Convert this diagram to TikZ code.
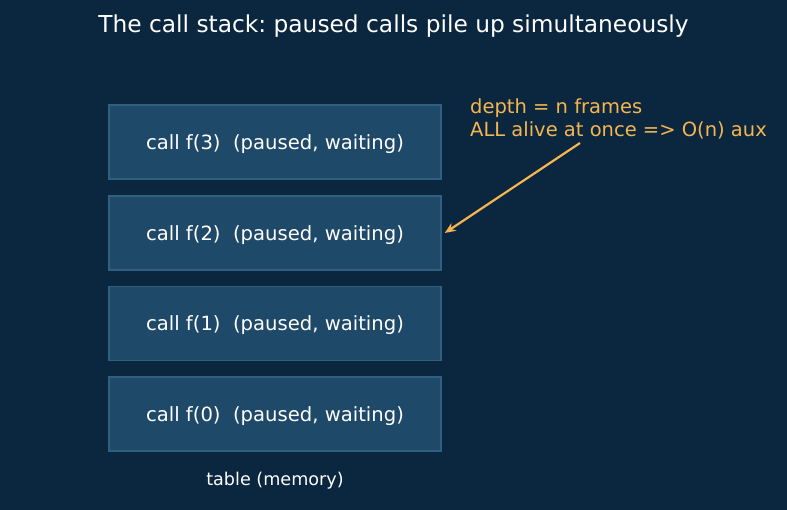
\documentclass[tikz,border=0pt]{standalone}
\usepackage{fontspec}
\setmainfont{DejaVu Sans}
\usetikzlibrary{arrows.meta}
\frenchspacing
\definecolor{bg}{RGB}{11,39,63}
\definecolor{boxfill}{RGB}{31,73,104}
\definecolor{boxedge}{RGB}{48,96,128}
\definecolor{anno}{RGB}{245,181,80}
\tikzset{
  frame/.style={draw=boxedge, line width=1.5pt, fill=boxfill, minimum width=332pt, minimum height=74pt, inner sep=0pt, text=white, font=\fontsize{19.6}{23}\selectfont},
  frametext/.style={text=white, font=\fontsize{19.6}{23}\selectfont, inner sep=0pt},
}
\begin{document}
\begin{tikzpicture}[x=1pt,y=-1pt]
\fill[bg] (0,0) rectangle (787,510);
\useasboundingbox (0,0) rectangle (787,510);
\node[text=white, font=\fontsize{23.3}{28}\selectfont] (title) at (393.5,26) {The call stack: paused calls pile up simultaneously};
\node[frame] (f3) at (275,142) {};
\node[frame] (f2) at (275,233) {};
\node[frame] (f1) at (275,323.5) {};
\node[frame] (f0) at (275,414) {};
\node[frametext] (t3) at (275,144) {call f(3)\ \ (paused, waiting)};
\node[frametext] (t2) at (275,235) {call f(2)\ \ (paused, waiting)};
\node[frametext] (t1) at (275,325.5) {call f(1)\ \ (paused, waiting)};
\node[frametext] (t0) at (275,416) {call f(0)\ \ (paused, waiting)};
\node[text=white, font=\fontsize{17.6}{21}\selectfont] (lbl) at (275,481) {table (memory)};
\node[anchor=north west, inner sep=0pt, text=anno, align=left, font=\fontsize{19.5}{23}\selectfont] (note) at (470,98) {depth = n frames\\ALL alive at once => O(n) aux};
\coordinate (src) at (580,143);
\draw[anno, line width=2.2pt, -{Stealth[length=11pt,width=9pt]}] (src) -- ([xshift=3pt]f2.east);
\end{tikzpicture}
\end{document}
